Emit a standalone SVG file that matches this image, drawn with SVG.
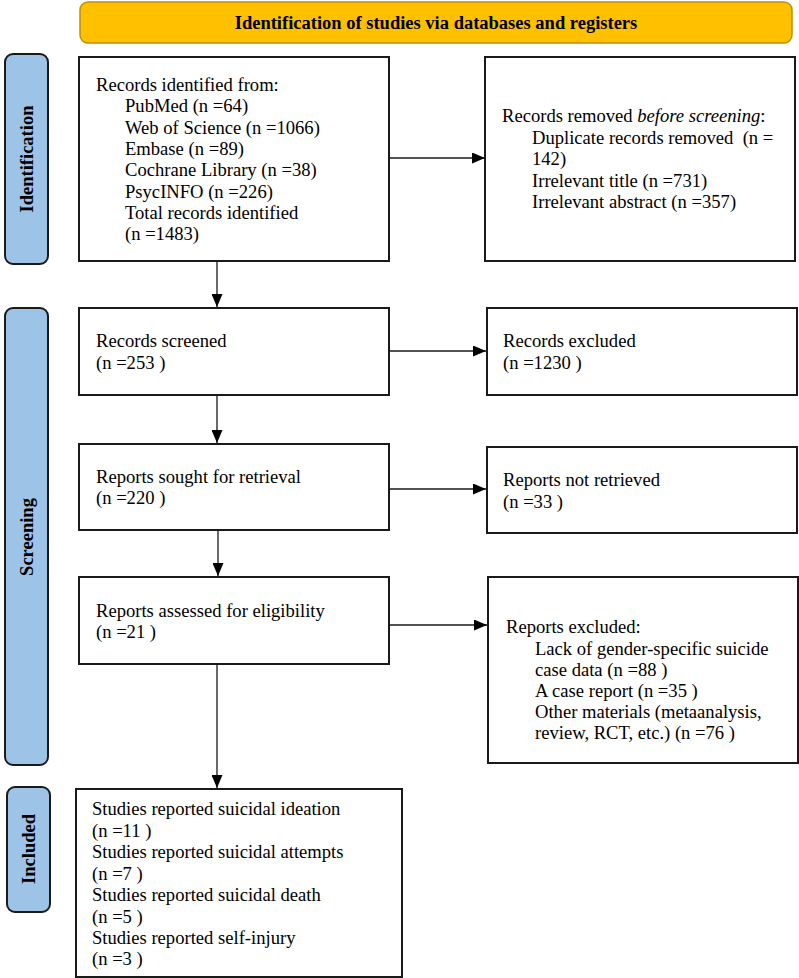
<svg xmlns="http://www.w3.org/2000/svg" width="799" height="978" viewBox="0 0 799 978">
<style>
text{font-family:"Liberation Serif","Times New Roman",serif;font-size:18.6px;fill:#000}
.box{fill:#fff;stroke:#1a1a1a;stroke-width:2}
.side{fill:#9DC3E6;stroke:#1a1a1a;stroke-width:2}
.lbl{font-weight:bold;font-size:18.5px;text-anchor:middle}
.conn{stroke:#1a1a1a;stroke-width:1.3;fill:none;marker-end:url(#ah)}
</style>
<defs>
<marker id="ah" viewBox="0 0 13 11" refX="13" refY="5.5" markerWidth="13" markerHeight="11" markerUnits="userSpaceOnUse" orient="auto">
<path d="M0,0 L13,5.5 L0,11 Z" fill="#000"/>
</marker>
</defs>
<rect width="799" height="978" fill="#fff"/>
<g id="title">
<rect x="80" y="2" width="712" height="41" rx="8" fill="#FFC000" stroke="#BF9000" stroke-width="1.5"/>
<text x="436" y="29" class="lbl">Identification of studies via databases and registers</text>
</g>
<g id="side-identification">
<rect x="5" y="54" width="43" height="210" rx="8" class="side"/>
<text class="lbl" transform="translate(33,159) rotate(-90)">Identification</text>
</g>
<g id="side-screening">
<rect x="5" y="308" width="43" height="457" rx="8" class="side"/>
<text class="lbl" transform="translate(33,537) rotate(-90)">Screening</text>
</g>
<g id="side-included">
<rect x="7" y="787" width="43" height="125" rx="8" class="side"/>
<text class="lbl" transform="translate(35,849) rotate(-90)">Included</text>
</g>
<g id="n-identified">
<rect x="79" y="57" width="310" height="204" class="box"/>
<text x="96" y="91">Records identified from:</text>
<text x="125" y="112">PubMed (n =64)</text>
<text x="125" y="134">Web of Science (n =1066)</text>
<text x="125" y="155">Embase (n =89)</text>
<text x="125" y="176">Cochrane Library (n =38)</text>
<text x="125" y="198">PsycINFO (n =226)</text>
<text x="125" y="219">Total records identified</text>
<text x="125" y="240">(n =1483)</text>
</g>
<g id="n-removed">
<rect x="485" y="57" width="310" height="204" class="box"/>
<text x="502" y="122">Records removed <tspan font-style="italic">before screening</tspan>:</text>
<text x="532" y="144" xml:space="preserve">Duplicate records removed  (n =</text>
<text x="532" y="165">142)</text>
<text x="532" y="187">Irrelevant title (n =731)</text>
<text x="532" y="208">Irrelevant abstract (n =357)</text>
</g>
<g id="n-screened">
<rect x="79" y="308" width="310" height="87" class="box"/>
<text x="96" y="347">Records screened</text>
<text x="96" y="369">(n =253 )</text>
</g>
<g id="n-excluded">
<rect x="487" y="308" width="310" height="87" class="box"/>
<text x="503" y="347">Records excluded</text>
<text x="503" y="369">(n =1230 )</text>
</g>
<g id="n-sought">
<rect x="79" y="444" width="310" height="86" class="box"/>
<text x="96" y="483">Reports sought for retrieval</text>
<text x="96" y="504">(n =220 )</text>
</g>
<g id="n-notretrieved">
<rect x="487" y="447" width="310" height="86" class="box"/>
<text x="503" y="486">Reports not retrieved</text>
<text x="503" y="508">(n =33 )</text>
</g>
<g id="n-assessed">
<rect x="79" y="577" width="310" height="87" class="box"/>
<text x="96" y="617">Reports assessed for eligibility</text>
<text x="96" y="638">(n =21 )</text>
</g>
<g id="n-reportsexcluded">
<rect x="488" y="577" width="310" height="186" class="box"/>
<text x="506" y="633">Reports excluded:</text>
<text x="535" y="655">Lack of gender-specific suicide</text>
<text x="535" y="676">case data (n =88 )</text>
<text x="535" y="697">A case report (n =35 )</text>
<text x="535" y="718">Other materials (metaanalysis,</text>
<text x="535" y="739">review, RCT, etc.) (n =76 )</text>
</g>
<g id="n-included">
<rect x="76" y="789" width="326" height="188" class="box"/>
<text x="92" y="815">Studies reported suicidal ideation</text>
<text x="92" y="837">(n =11 )</text>
<text x="92" y="858">Studies reported suicidal attempts</text>
<text x="92" y="880">(n =7 )</text>
<text x="92" y="901">Studies reported suicidal death</text>
<text x="92" y="923">(n =5 )</text>
<text x="92" y="944">Studies reported self-injury</text>
<text x="92" y="965">(n =3 )</text>
</g>
<g id="connectors">
<line x1="389" y1="158" x2="485" y2="158" class="conn"/>
<line x1="217" y1="261" x2="217" y2="307" class="conn"/>
<line x1="389" y1="351" x2="486" y2="351" class="conn"/>
<line x1="217" y1="395" x2="217" y2="443" class="conn"/>
<line x1="389" y1="489" x2="486" y2="489" class="conn"/>
<line x1="218" y1="530" x2="218" y2="576" class="conn"/>
<line x1="389" y1="625" x2="487" y2="625" class="conn"/>
<line x1="217" y1="664" x2="217" y2="788" class="conn"/>
</g>
</svg>
